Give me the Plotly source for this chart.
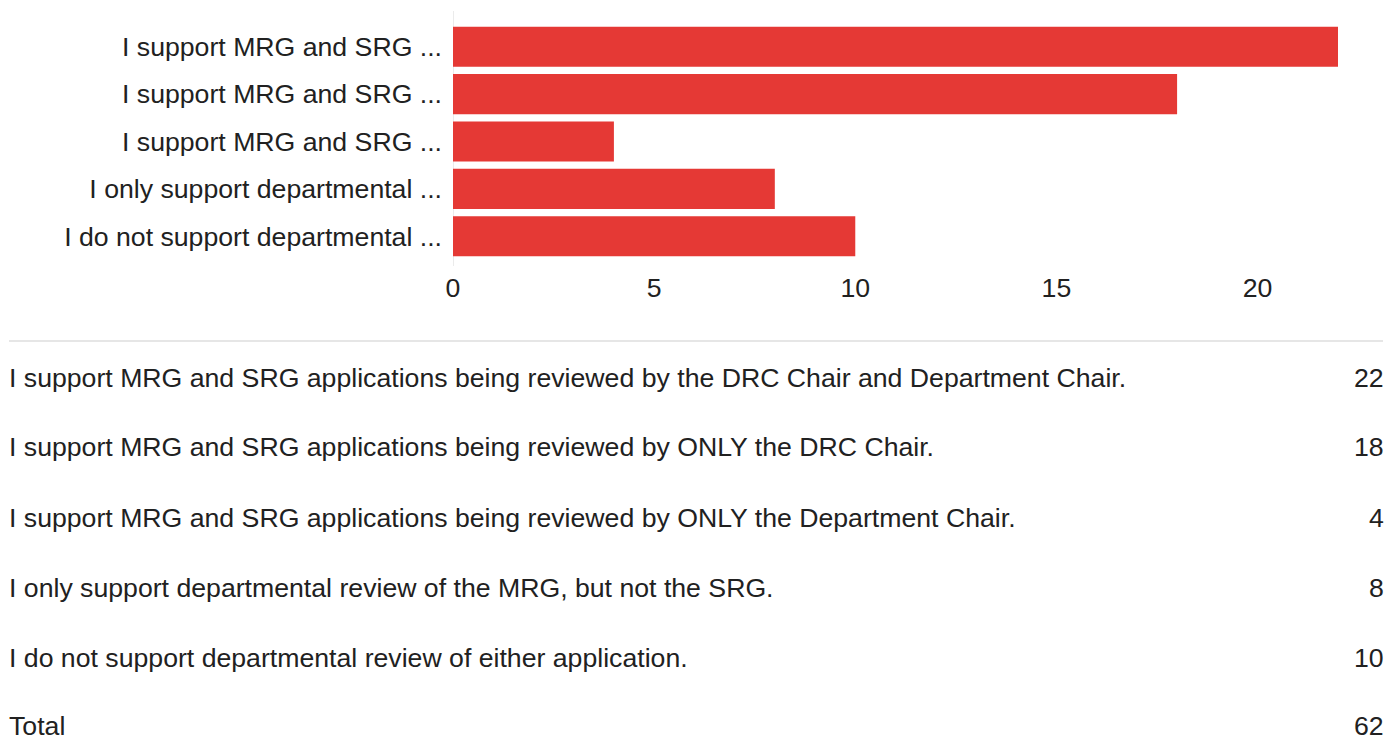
import plotly.graph_objects as go

short_labels = [
    "I support MRG and SRG ...",
    "I support MRG and SRG ...",
    "I support MRG and SRG ...",
    "I only support departmental ...",
    "I do not support departmental ...",
]
full_labels = [
    "I support MRG and SRG applications being reviewed by the DRC Chair and Department Chair.",
    "I support MRG and SRG applications being reviewed by ONLY the DRC Chair.",
    "I support MRG and SRG applications being reviewed by ONLY the Department Chair.",
    "I only support departmental review of the MRG, but not the SRG.",
    "I do not support departmental review of either application.",
]
counts = [22, 18, 4, 8, 10]
total_label = "Total"
x_ticks = [0, 5, 10, 15, 20]

W, H = 1389, 738
L, R, T = 453, 51, 23
PH = 237
B = H - T - PH
PW = W - L - R

FONT = "Liberation Sans, Arial, sans-serif"
FS = 26.67
TXT = "#212121"
BAR = "#e53935"

def xp(px):
    return (px - L) / PW

def yp(py):
    return (T + PH - py) / PH

cat_ids = list(range(len(counts)))

fig = go.Figure()
fig.add_trace(go.Bar(
    x=counts, y=cat_ids, orientation="h",
    marker=dict(color=BAR, line=dict(width=0)),
    hoverinfo="x",
))

fig.update_layout(
    width=W, height=H,
    margin=dict(l=L, r=R, t=T, b=B, pad=0),
    paper_bgcolor="white", plot_bgcolor="white",
    bargap=0.155,
    showlegend=False,
    font=dict(family=FONT, size=FS, color=TXT),
    xaxis=dict(range=[0, 22], tickvals=x_ticks, ticktext=[str(v) for v in x_ticks],
               showgrid=False, zeroline=False, showline=False, ticks="",
               tickfont=dict(size=FS, color=TXT, family=FONT), ticklabelstandoff=9),
    yaxis=dict(range=[4.5, -0.5], tickvals=cat_ids, ticktext=short_labels,
               showgrid=False, zeroline=False, showline=False, ticks="",
               tickfont=dict(size=FS, color=TXT, family=FONT), ticklabelstandoff=10),
)

# vertical baseline at zero
fig.add_shape(type="line", xref="x", yref="paper", x0=0, x1=0,
              y0=yp(266), y1=yp(11), line=dict(color="#ebebeb", width=2), layer="below")

# separator line for table
fig.add_shape(type="line", xref="paper", yref="paper", x0=xp(9), x1=xp(1383),
              y0=yp(341), y1=yp(341), line=dict(color="#e6e6e6", width=2))

def ann(text, px, py, anchor):
    fig.add_annotation(text=text, xref="paper", yref="paper", x=xp(px), y=yp(py),
                       xanchor=anchor, yanchor="middle", showarrow=False, borderpad=0,
                       font=dict(size=FS, color=TXT, family=FONT))

row_y = [378, 447, 518, 588, 658]
for lab, val, py in zip(full_labels, counts, row_y):
    ann(lab, 8, py, "left")
    ann(str(val), 1385, py, "right")

ann(total_label, 8, 726, "left")
ann(str(sum(counts)), 1385, 726, "right")

fig.write_html("out.html", config={"displayModeBar": False},
               post_script="document.body.style.margin='0';document.body.style.overflow='hidden';")
